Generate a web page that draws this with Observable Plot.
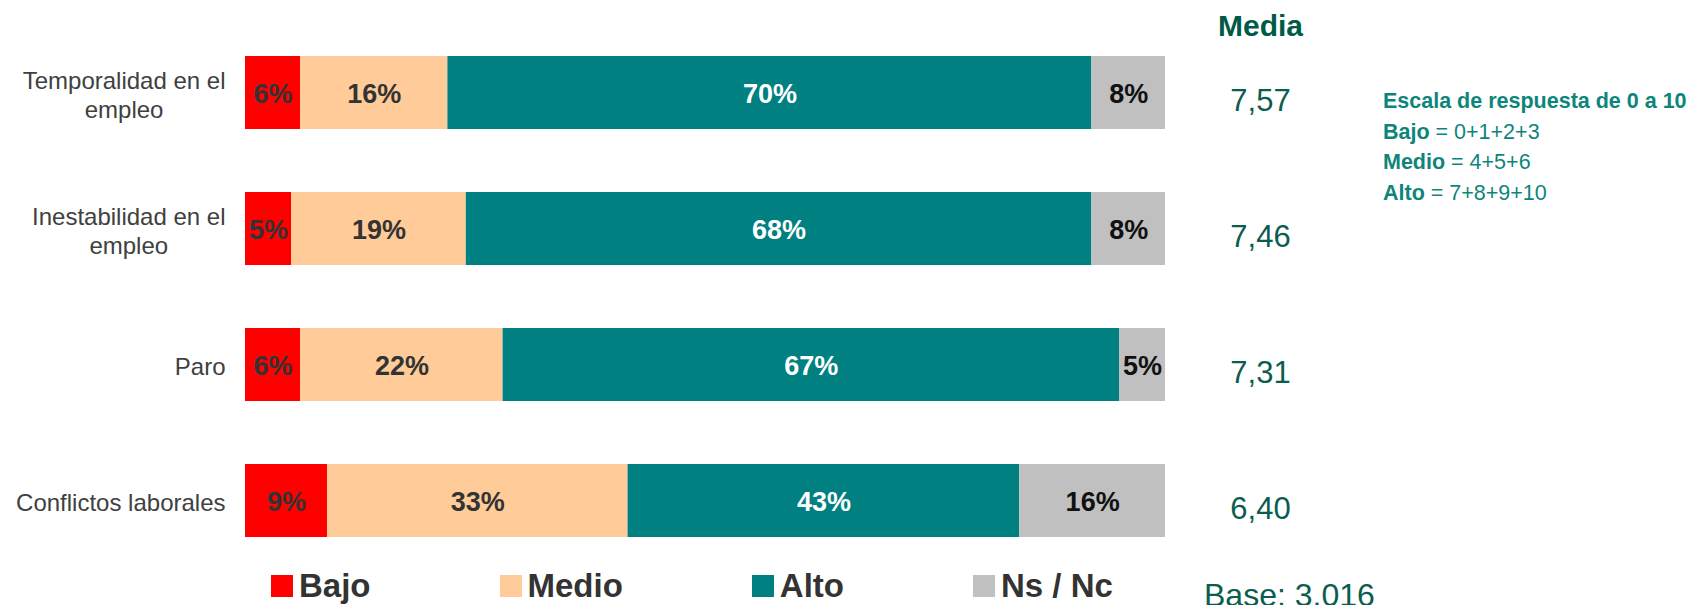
<!DOCTYPE html>
<html><head><meta charset="utf-8">
<script src="https://cdn.jsdelivr.net/npm/d3@7"></script>
<script src="https://cdn.jsdelivr.net/npm/@observablehq/plot@0.6"></script>
<style>
html,body{margin:0;padding:0;background:#fff;}
#wrap{position:relative;width:1690px;height:605px;overflow:hidden;font-family:Arial,"Liberation Sans",sans-serif;}
#wrap svg.main{position:absolute;left:0;top:0;}
#legend{position:absolute;left:271px;top:567px;width:1000px;}
#wrap .lg-swatches{font-family:Arial,"Liberation Sans",sans-serif;font-size:33px;font-weight:bold;color:#333;min-height:0;margin:0;}
#wrap .lg-swatch{margin-right:129px;}
#wrap .lg-swatch > svg{margin-right:6px;}
#notes{position:absolute;left:1383px;top:86px;font-size:21.5px;line-height:30.5px;color:#0e857b;white-space:nowrap;}
#notes b{font-weight:bold;}
#base{position:absolute;left:1204px;top:579px;font-size:32px;line-height:32px;color:#0b5d4f;white-space:nowrap;}
</style></head><body><div id="wrap"></div>
<script>
const categories = ["Temporalidad en el empleo","Inestabilidad en el empleo","Paro","Conflictos laborales"];
const categoryLines = [["Temporalidad en el","empleo"],["Inestabilidad en el","empleo"],["Paro"],["Conflictos laborales"]];
const levels = ["Bajo","Medio","Alto","Ns / Nc"];
const levelColors = ["#ff0000","#ffcc99","#008080","#c0c0c0"];
const valueLabelColors = ["#333333","#333333","#ffffff","#111111"];
const bajo = [6,5,6,9];
const medio = [16,19,22,33];
const alto = [70,68,67,43];
const nsnc = [8,8,5,16];
const media = [7.57,7.46,7.31,6.40];
const mediaTitle = "Media";
const baseText = "Base: 3.016";
const scaleTitle = "Escala de respuesta de 0 a 10";
const scaleNotes = [["Bajo"," = 0+1+2+3"],["Medio"," = 4+5+6"],["Alto"," = 7+8+9+10"]];

const FONT = "Arial, 'Liberation Sans', sans-serif";
const series = [bajo, medio, alto, nsnc];
const rows = [];
categories.forEach((c, i) => levels.forEach((l, j) => rows.push({category: c, level: l, value: series[j][i], color: levelColors[j], labelColor: valueLabelColors[j]})));
const mediaRows = categories.map((c, i) => ({category: c, media: media[i]}));

const ctx = document.createElement("canvas").getContext("2d");
ctx.font = `24px ${FONT}`;

const catMarks = categories.map((c, i) => {
  const lines = categoryLines[i];
  const w = Math.max(...lines.map(s => ctx.measureText(s).width));
  return Plot.text([c], {
    y: d => d, frameAnchor: "left", text: () => lines.join("\n"),
    textAnchor: "middle", dx: -(20 + w / 2), dy: 1, lineHeight: 1.2,
    fontSize: 24, fill: "#404040"
  });
});

const plot = Plot.plot({
  width: 1690, height: 560,
  marginLeft: 245, marginRight: 525, marginTop: 20, marginBottom: 0,
  x: {domain: [0, 1], axis: null},
  y: {domain: categories, axis: null, paddingInner: 0.464, paddingOuter: 0.2125, align: 0.604},
  style: {fontFamily: FONT, background: "transparent", overflow: "visible"},
  marks: [
    Plot.barX(rows, Plot.stackX({offset: "normalize", order: levels, x: "value", y: "category", z: "level", fill: "color"})),
    Plot.text(rows, Plot.stackX({offset: "normalize", order: levels, x: "value", y: "category", z: "level",
      text: d => d.value + "%", fill: "labelColor", fontSize: 27, fontWeight: "bold", dy: 1})),
    ...catMarks,
    Plot.text(mediaRows, {y: "category", frameAnchor: "right", textAnchor: "middle", dx: 95, dy: 8.5,
      text: d => d.media.toFixed(2).replace(".", ","), fontSize: 31, fill: "#0b5d4f"}),
    Plot.text([mediaTitle], {frameAnchor: "top-right", textAnchor: "middle", lineAnchor: "bottom", dx: 95, dy: 15,
      text: d => d, fontSize: 30, fontWeight: "bold", fill: "#005a48"})
  ]
});
plot.classList.add("main");

const wrap = document.getElementById("wrap");
wrap.appendChild(plot);

const legend = Plot.legend({color: {domain: levels, range: levelColors}, legend: "swatches", swatchSize: 22, className: "lg"});
legend.id = "legend";
wrap.appendChild(legend);

const notes = document.createElement("div");
notes.id = "notes";
const t = document.createElement("div"); const tb = document.createElement("b"); tb.textContent = scaleTitle; t.appendChild(tb); notes.appendChild(t);
scaleNotes.forEach(([k, v]) => {
  const d = document.createElement("div");
  const b = document.createElement("b"); b.textContent = k; d.appendChild(b);
  d.appendChild(document.createTextNode(v));
  notes.appendChild(d);
});
wrap.appendChild(notes);

const base = document.createElement("div");
base.id = "base"; base.textContent = baseText;
wrap.appendChild(base);
</script></body></html>
